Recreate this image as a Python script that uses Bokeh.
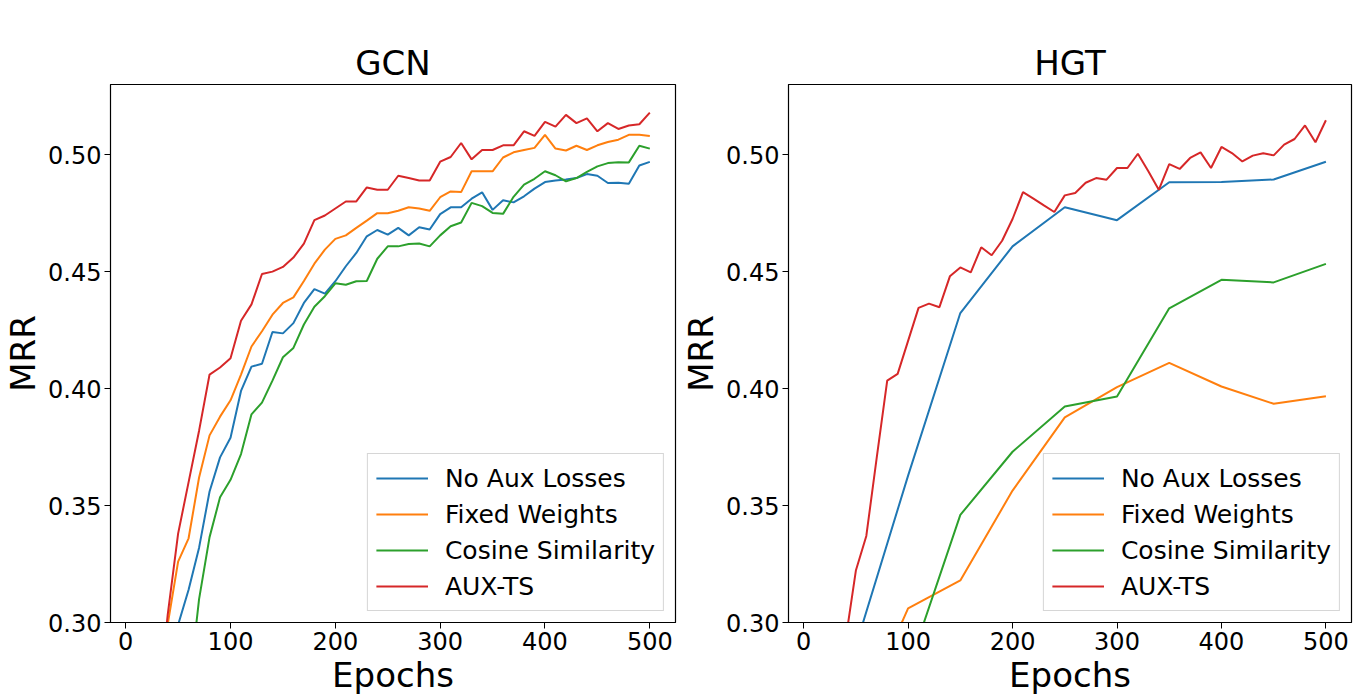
from bokeh.plotting import figure
from bokeh.layouts import row
from bokeh.models import FixedTicker, PrintfTickFormatter, Range1d
from bokeh.embed import file_html
from bokeh.resources import INLINE

# ---------------- data ----------------
gcn_epochs = list(range(10, 510, 10))

gcn_no_aux = [0.13, 0.18, 0.23, 0.27, 0.299, 0.314, 0.332, 0.356, 0.3706, 0.379,
              0.399, 0.4094, 0.4106, 0.4242, 0.4236, 0.428, 0.4366, 0.4425, 0.4406, 0.4459,
              0.4523, 0.458, 0.4651, 0.4678, 0.4658, 0.4687, 0.4655, 0.469, 0.468, 0.4746,
              0.4775, 0.4775, 0.4812, 0.4839, 0.4764, 0.4805, 0.4796, 0.4822, 0.4855, 0.4883,
              0.489, 0.4894, 0.490, 0.4917, 0.491, 0.4879, 0.488, 0.4876, 0.4954, 0.4969]

gcn_fixed = [0.15, 0.20, 0.25, 0.299, 0.326, 0.336, 0.362, 0.380, 0.388, 0.395,
             0.406, 0.418, 0.4245, 0.4316, 0.4366, 0.439, 0.446, 0.4534, 0.4594, 0.464,
             0.4655, 0.4687, 0.4718, 0.475, 0.475, 0.476, 0.4775, 0.477, 0.476, 0.4818,
             0.4843, 0.484, 0.4929, 0.4929, 0.4929, 0.4988, 0.501, 0.502, 0.5029, 0.5085,
             0.5026, 0.5018, 0.5038, 0.502, 0.504, 0.5054, 0.5064, 0.5085, 0.5085, 0.508]

gcn_cosine = [0.12, 0.16, 0.20, 0.23, 0.255, 0.27, 0.310, 0.3365, 0.3535, 0.361,
              0.372, 0.389, 0.394, 0.4034, 0.4134, 0.4174, 0.4274, 0.435, 0.4395, 0.445,
              0.4444, 0.4459, 0.446, 0.4555, 0.4608, 0.4608, 0.4618, 0.462, 0.4608, 0.4655,
              0.4694, 0.471, 0.4794, 0.478, 0.4751, 0.4747, 0.482, 0.4872, 0.4897, 0.4929,
              0.4912, 0.4886, 0.490, 0.4926, 0.495, 0.4964, 0.4968, 0.4967, 0.5038, 0.5026]

gcn_auxts = [0.16, 0.21, 0.26, 0.303, 0.338, 0.360, 0.382, 0.406, 0.409, 0.413,
             0.429, 0.436, 0.449, 0.450, 0.452, 0.456, 0.462, 0.472, 0.474, 0.477,
             0.480, 0.480, 0.486, 0.485, 0.485, 0.491, 0.490, 0.489, 0.489, 0.497,
             0.499, 0.505, 0.498, 0.502, 0.502, 0.504, 0.504, 0.510, 0.508, 0.514,
             0.512, 0.517, 0.5135, 0.5155, 0.510, 0.5135, 0.511, 0.5125, 0.513, 0.518]

hgt_sparse_epochs = list(range(50, 550, 50))
hgt_no_aux = [0.290, 0.3628, 0.4323, 0.4608, 0.4775, 0.472, 0.4882, 0.4883, 0.4894, 0.497]
hgt_fixed = [0.256, 0.306, 0.318, 0.3564, 0.3877, 0.4006, 0.411, 0.4009, 0.3935, 0.3967]
hgt_cosine = [0.24, 0.280, 0.346, 0.373, 0.3923, 0.3966, 0.4343, 0.4465, 0.4454, 0.4533]

hgt_epochs = list(range(10, 510, 10))
hgt_auxts = [0.19, 0.23, 0.265, 0.292, 0.3222, 0.337, 0.3706, 0.4034, 0.4063, 0.4204,
             0.4345, 0.4363, 0.4348, 0.448, 0.4518, 0.4497, 0.4604, 0.457, 0.4632, 0.4725,
             0.484, 0.4812, 0.4783, 0.4755, 0.4826, 0.4836, 0.488, 0.490, 0.4893, 0.4943,
             0.4943, 0.5004, 0.4929, 0.485, 0.496, 0.4939, 0.4986, 0.501, 0.4943, 0.5033,
             0.5007, 0.4971, 0.4996, 0.5006, 0.4997, 0.5043, 0.5067, 0.5125, 0.5053, 0.5147]

labels = ["No Aux Losses", "Fixed Weights", "Cosine Similarity", "AUX-TS"]
colors = ["#1f77b4", "#ff7f0e", "#2ca02c", "#d62728"]
x_ticks = [0, 100, 200, 300, 400, 500]
y_ticks = [0.30, 0.35, 0.40, 0.45, 0.50]

FONT = "DejaVu Sans"


def make_fig(title, series, min_left, min_right, fw):
    p = figure(frame_width=fw, frame_height=538, output_backend="svg",
               toolbar_location=None, tools="",
               x_range=Range1d(-14.5, 524.5), y_range=Range1d(0.30, 0.53),
               min_border_left=min_left, min_border_right=min_right,
               min_border_top=84, min_border_bottom=68)
    p.title.text = title
    p.title.align = "center"
    p.title.text_font = FONT
    p.title.text_font_size = "34px"
    p.title.text_font_style = "normal"
    p.title.text_color = "black"
    p.title.standoff = 4

    for (xs, ys), lab, col in zip(series, labels, colors):
        p.line(xs, ys, line_color=col, line_width=2, legend_label=lab)

    p.xgrid.visible = False
    p.ygrid.visible = False
    p.outline_line_color = "black"
    p.outline_line_width = 1.2
    p.outline_line_alpha = 1

    for ax in (p.xaxis[0], p.yaxis[0]):
        ax.major_label_text_font = FONT
        ax.major_label_text_font_size = "24px"
        ax.major_label_text_color = "black"
        ax.axis_label_text_font = FONT
        ax.axis_label_text_font_size = "34px"
        ax.axis_label_text_font_style = "normal"
        ax.axis_label_text_color = "black"
        ax.minor_tick_line_color = None
        ax.major_tick_in = 0
        ax.major_tick_out = 6
        ax.major_tick_line_color = "black"
        ax.axis_line_color = "black"
        ax.major_label_standoff = 3
        ax.axis_label_standoff = 2

    p.xaxis[0].ticker = FixedTicker(ticks=x_ticks)
    p.yaxis[0].ticker = FixedTicker(ticks=y_ticks)
    p.yaxis[0].formatter = PrintfTickFormatter(format="%.2f")
    p.xaxis[0].axis_label = "Epochs"
    p.yaxis[0].axis_label = "MRR"

    lg = p.legend[0]
    lg.location = "bottom_right"
    lg.margin = 11
    lg.padding = 8
    lg.spacing = 4
    lg.glyph_width = 52
    lg.glyph_height = 32
    lg.label_standoff = 17
    lg.label_text_font = FONT
    lg.label_text_font_size = "25px"
    lg.label_text_color = "black"
    lg.border_line_color = "#cccccc"
    lg.border_line_alpha = 0.8
    lg.background_fill_color = "white"
    lg.background_fill_alpha = 0.8
    return p


p1 = make_fig("GCN",
              [(gcn_epochs, gcn_no_aux), (gcn_epochs, gcn_fixed),
               (gcn_epochs, gcn_cosine), (gcn_epochs, gcn_auxts)],
              102, 3, 565)
p2 = make_fig("HGT",
              [(hgt_sparse_epochs, hgt_no_aux), (hgt_sparse_epochs, hgt_fixed),
               (hgt_sparse_epochs, hgt_cosine), (hgt_epochs, hgt_auxts)],
              108, 5, 563)

layout = row(p1, p2, spacing=0)
open("out.html", "w").write(file_html(layout, INLINE))
